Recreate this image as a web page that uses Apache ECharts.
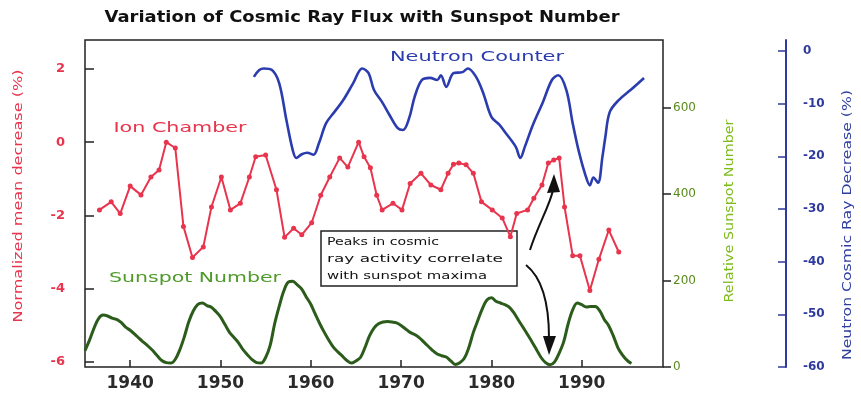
<!DOCTYPE html>
<html><head><meta charset="utf-8">
<script src="https://cdn.jsdelivr.net/npm/echarts@6/dist/echarts.min.js"></script>
<style>html,body{margin:0;padding:0;background:#fff}#c{width:861px;height:396px}</style>
</head><body><div id="c"></div>
<script>
// ---------- data ----------
const xTickYears = [1940, 1950, 1960, 1970, 1980, 1990];
const ionTicks = [-6, -4, -2, 0, 2];
const sunspotTicks = [0, 200, 400, 600];
const neutronTicks = [0, -10, -20, -30, -40, -50, -60];

const ionYears = [1936.6,1937.9,1938.9,1940.0,1941.2,1942.3,1943.2,1944.0,1945.0,1945.9,1946.9,1948.1,1949.0,1950.1,1951.1,1952.2,1953.2,1953.9,1955.0,1956.2,1957.1,1958.1,1959.0,1960.1,1961.1,1962.1,1963.2,1964.1,1965.3,1965.9,1966.6,1967.3,1967.9,1969.1,1970.1,1971.0,1972.2,1973.3,1974.4,1975.2,1975.8,1976.4,1977.2,1978.0,1978.9,1980.1,1981.2,1982.1,1982.8,1984.0,1984.7,1985.6,1986.3,1986.9,1987.5,1988.1,1989.0,1989.8,1990.9,1991.9,1993.0,1994.1];
const ionValues = [-1.85,-1.63,-1.95,-1.2,-1.44,-0.95,-0.76,0.0,-0.16,-2.3,-3.15,-2.86,-1.77,-0.95,-1.85,-1.67,-0.95,-0.4,-0.35,-1.3,-2.6,-2.35,-2.53,-2.2,-1.45,-0.95,-0.43,-0.68,0.0,-0.4,-0.7,-1.45,-1.85,-1.67,-1.85,-1.13,-0.85,-1.17,-1.3,-0.85,-0.6,-0.57,-0.62,-0.85,-1.63,-1.85,-2.07,-2.58,-1.95,-1.85,-1.53,-1.17,-0.57,-0.49,-0.43,-1.77,-3.1,-3.1,-4.05,-3.2,-2.4,-3.0];

const neutronYears = [1953.7,1954.3,1954.8,1955.7,1956.5,1957.3,1958.0,1958.4,1959.0,1959.6,1960.3,1960.9,1961.7,1962.6,1963.6,1964.7,1965.7,1966.4,1967.0,1967.9,1968.7,1969.6,1970.2,1970.9,1971.5,1972.3,1973.2,1974.0,1974.4,1975.0,1975.8,1976.8,1977.4,1978.3,1979.1,1980.0,1980.9,1981.6,1982.7,1983.2,1983.7,1984.6,1985.7,1986.7,1987.4,1988.3,1989.0,1989.7,1990.4,1990.9,1991.3,1991.8,1992.3,1992.6,1993.1,1994.1,1995.4,1996.9];
const neutronValues = [-4.9,-3.6,-3.3,-3.6,-6.1,-13.1,-18.8,-20.3,-19.6,-19.3,-19.7,-17.5,-13.7,-11.6,-9.3,-6.1,-3.3,-4.2,-7.4,-9.7,-12.1,-14.6,-15.0,-12.7,-8.7,-5.5,-5.1,-5.5,-4.6,-6.8,-4.2,-4.0,-3.3,-4.9,-8.0,-12.5,-14.0,-15.6,-18.2,-20.3,-18.2,-14.0,-9.7,-5.5,-4.6,-7.4,-13.7,-19.2,-23.5,-25.5,-24.0,-25.0,-20.0,-16.5,-11.6,-9.3,-7.4,-5.1];

const sunspotYears = [1935.0,1935.5,1936.0,1936.5,1937.0,1937.5,1938.0,1938.5,1939.0,1939.5,1940.0,1940.5,1941.0,1941.5,1942.0,1942.5,1943.0,1943.5,1944.0,1944.5,1945.0,1945.5,1946.0,1946.5,1947.0,1947.5,1948.0,1948.5,1949.0,1949.5,1950.0,1950.5,1951.0,1951.5,1952.0,1952.5,1953.0,1953.5,1954.0,1954.5,1955.0,1955.5,1956.0,1956.5,1957.0,1957.5,1958.0,1958.5,1959.0,1959.5,1960.0,1960.5,1961.0,1961.5,1962.0,1962.5,1963.0,1963.5,1964.0,1964.5,1965.0,1965.5,1966.0,1966.5,1967.0,1967.5,1968.0,1968.5,1969.0,1969.5,1970.0,1970.5,1971.0,1971.5,1972.0,1972.5,1973.0,1973.5,1974.0,1974.5,1975.0,1975.5,1976.0,1976.5,1977.0,1977.5,1978.0,1978.5,1979.0,1979.5,1980.0,1980.5,1981.0,1981.5,1982.0,1982.5,1983.0,1983.5,1984.0,1984.5,1985.0,1985.5,1986.0,1986.5,1987.0,1987.5,1988.0,1988.5,1989.0,1989.5,1990.0,1990.5,1991.0,1991.5,1992.0,1992.5,1993.0,1993.5,1994.0,1994.5,1995.0,1995.5];
const sunspotValues = [38,62,90,112,120,118,113,110,103,92,85,76,66,57,48,38,26,15,10,9,18,40,70,105,130,145,148,142,138,128,116,98,80,68,56,40,28,17,10,9,22,50,100,140,175,196,198,190,180,162,145,122,100,80,62,46,35,25,15,9,14,22,45,72,90,100,104,105,104,102,96,88,80,75,68,58,48,38,30,26,23,14,6,10,20,45,80,108,135,155,160,152,148,144,138,125,108,92,75,58,40,22,10,5,12,32,58,100,132,148,144,139,140,140,130,110,95,72,45,28,16,8];

const titleText = 'Variation of Cosmic Ray Flux with Sunspot Number';
const ionLabel = 'Ion Chamber';
const neutronLabel = 'Neutron Counter';
const sunspotLabel = 'Sunspot Number';
const noteLines = ['Peaks in cosmic', 'ray activity correlate', 'with sunspot maxima'];
const leftAxisName = 'Normalized mean decrease (%)';
const greenAxisName = 'Relative Sunspot Number';
const blueAxisName = 'Neutron Cosmic Ray Decrease (%)';

// ---------- styling ----------
const RED = '#e8344d', BLUE = '#2b3cae', DKGREEN = '#2c5c1c';
const FF = 'DejaVu Sans';
const mctx = document.createElement('canvas').getContext('2d');
function fit(text, font, target) { mctx.font = font; return target / mctx.measureText(text).width; }
function txt(text, x, y, size, weight, color, target, rot, align) {
  const font = `${weight} ${size}px "${FF}"`;
  return {
    type: 'text', x: x, y: y, rotation: rot || 0, scaleX: fit(text, font, target), z: 50,
    style: { text: text, font: font, fill: color, align: align || 'center', textAlign: align || 'center',
             verticalAlign: 'middle', textVerticalAlign: 'middle' }
  };
}

const graphics = [
  txt(titleText, 362, 18, 15, 'bold', '#111', 515),
  txt(ionLabel, 180, 128, 14, 'normal', RED, 133),
  txt(neutronLabel, 477, 57, 14, 'normal', BLUE, 174),
  txt(sunspotLabel, 195, 278, 14, 'normal', '#4e9a2a', 172),
  txt(leftAxisName, 19, 196, 13, 'normal', RED, 253, Math.PI / 2),
  txt(greenAxisName, 730, 211, 12, 'normal', '#7dbb1a', 183, Math.PI / 2),
  txt(blueAxisName, 848, 225, 13, 'normal', '#2f3fa0', 270, Math.PI / 2),
  { type: 'rect', z: 0, shape: { x: 321, y: 231, width: 196, height: 55 },
    style: { fill: '#fff', stroke: '#222', lineWidth: 1.5 } },
  txt(noteLines[0], 327, 242, 11, 'normal', '#111', 112, 0, 'left'),
  txt(noteLines[1], 327, 259, 11, 'normal', '#111', 176, 0, 'left'),
  txt(noteLines[2], 327, 276, 11, 'normal', '#111', 160, 0, 'left'),
  { type: 'bezierCurve', z: 45, shape: { x1: 530, y1: 250, cpx1: 538, cpy1: 225, cpx2: 550, cpy2: 205, x2: 553, y2: 190 },
    style: { stroke: '#111', lineWidth: 2, fill: null } },
  { type: 'polygon', z: 45, shape: { points: [[554, 174], [547, 193], [560, 192]] }, style: { fill: '#111' } },
  { type: 'bezierCurve', z: 45, shape: { x1: 526, y1: 265, cpx1: 545, cpy1: 280, cpx2: 549, cpy2: 310, x2: 549, y2: 338 },
    style: { stroke: '#111', lineWidth: 2, fill: null } },
  { type: 'polygon', z: 45, shape: { points: [[543, 336], [556, 336], [549, 355]] }, style: { fill: '#111' } }
];

const chart = echarts.init(document.getElementById('c'), null, { renderer: 'canvas' });
chart.setOption({
  animation: false,
  backgroundColor: '#fff',
  grid: { left: 85, right: 198, top: 40, bottom: 29, show: true, borderColor: '#222', borderWidth: 1.5 },
  xAxis: {
    type: 'value', min: 1935, max: 1999,
    axisLine: { show: false, onZero: false }, splitLine: { show: false },
    axisTick: { inside: true, length: 7, customValues: xTickYears, lineStyle: { color: '#222', width: 1.5 } },
    axisLabel: { customValues: xTickYears, formatter: (v) => String(v), fontSize: 17, fontWeight: 'bold',
                 color: '#2a2a2a', margin: 8, fontFamily: FF }
  },
  yAxis: [
    { type: 'value', position: 'left', min: -6.14, max: 2.79,
      axisLine: { show: false, onZero: false }, splitLine: { show: false },
      axisTick: { show: true, inside: true, length: 9, customValues: ionTicks, lineStyle: { color: '#222', width: 1.5 } },
      axisLabel: { customValues: ionTicks, fontSize: 13, fontWeight: 'bold', color: RED, margin: 20,
                   padding: [6, 0, 0, 0], fontFamily: FF } },
    { type: 'value', position: 'right', min: 0, max: 756,
      axisLine: { show: false, onZero: false }, splitLine: { show: false },
      axisTick: { show: true, inside: false, length: 8, customValues: sunspotTicks, lineStyle: { color: '#222', width: 1.5 } },
      axisLabel: { customValues: sunspotTicks, fontSize: 12, color: (v) => (v === 0 ? '#333' : '#5a8a1c'),
                   margin: 10, padding: [4, 0, 0, 0], fontFamily: FF } },
    { type: 'value', position: 'right', offset: 123, min: -60, max: 2.1,
      axisLine: { show: true, onZero: false, lineStyle: { color: '#2f3a9e', width: 2 } }, splitLine: { show: false },
      axisTick: { show: true, inside: true, length: 8, customValues: neutronTicks, lineStyle: { color: '#2f3a9e', width: 1.5 } },
      axisLabel: { customValues: neutronTicks, fontSize: 12, fontWeight: 'bold', color: '#2f3a9e', margin: 17, fontFamily: FF } }
  ],
  series: [
    { name: 'Sunspot Number', type: 'line', yAxisIndex: 1, smooth: 0.35, symbol: 'none',
      data: sunspotYears.map((y, i) => [y, sunspotValues[i]]),
      lineStyle: { color: DKGREEN, width: 3 }, z: 2 },
    { name: 'Neutron Counter', type: 'line', yAxisIndex: 2, smooth: 0.35, symbol: 'none',
      data: neutronYears.map((y, i) => [y, neutronValues[i]]),
      lineStyle: { color: BLUE, width: 2.6 }, z: 3 },
    { name: 'Ion Chamber', type: 'line', yAxisIndex: 0, symbol: 'circle', symbolSize: 5, showSymbol: true,
      data: ionYears.map((y, i) => [y, ionValues[i]]),
      lineStyle: { color: RED, width: 2 }, itemStyle: { color: RED }, z: 4 }
  ],
  graphic: graphics
});
</script>
</body></html>
